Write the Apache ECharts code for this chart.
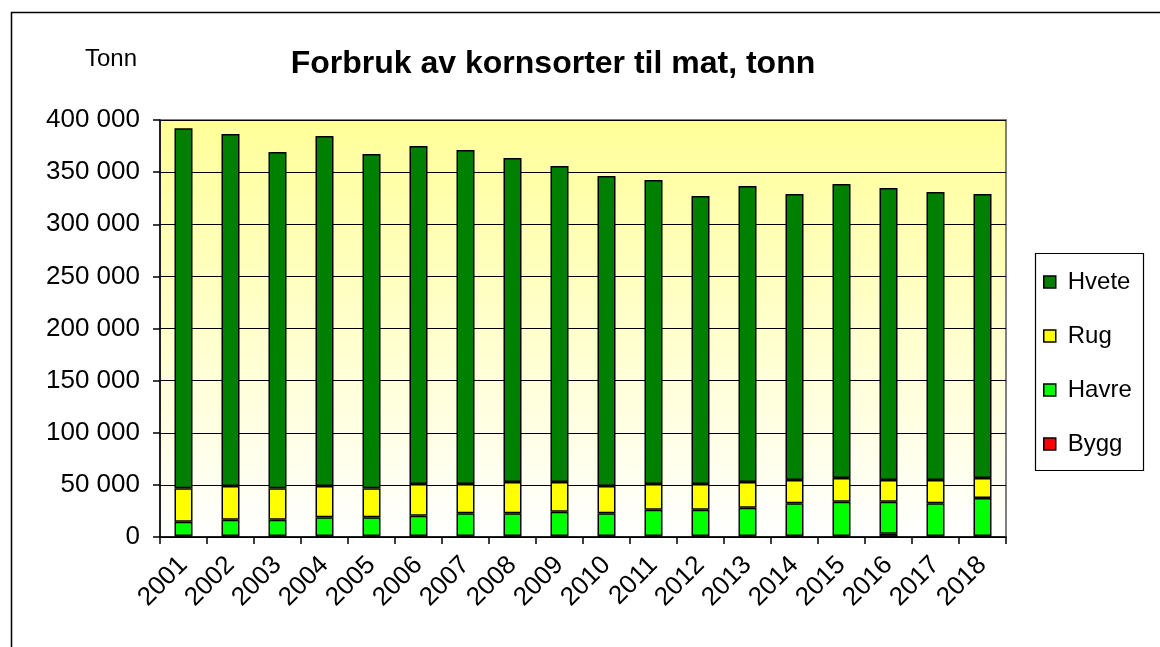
<!DOCTYPE html>
<html><head><meta charset="utf-8">
<script src="https://cdn.jsdelivr.net/npm/echarts@6/dist/echarts.min.js"></script>
<style>html,body{margin:0;padding:0;background:#fff}#c{width:1160px;height:647px}</style>
</head><body><div id="c"></div>
<script>
const years = ['2001','2002','2003','2004','2005','2006','2007','2008','2009','2010','2011','2012','2013','2014','2015','2016','2017','2018'];
const bygg  = [1000,1000,1000,1000,1000,1000,1000,1000,1000,1000,1000,1000,1000,1000,1000,3000,1000,1000];
const havre = [13700,15600,15600,17900,17900,19400,21700,21700,23300,21700,25200,25200,27100,31300,32900,30900,31300,36400];
const rug   = [32000,32300,30100,30000,27800,30400,28100,30100,28500,26200,24600,24600,24700,22400,22700,20800,22400,19200];
const hvete = [345300,337700,322600,335800,320700,324200,320400,310700,303100,297400,291600,276300,283900,274300,282000,280100,276200,272400];
const yTicks = [0,50000,100000,150000,200000,250000,300000,350000,400000];

const font = '"Liberation Sans", Arial, sans-serif';
const chart = echarts.init(document.getElementById('c'));
const fmt = v => String(v).replace(/\B(?=(\d{3})+(?!\d))/g, ' ');
function s(name, data, color) {
  return { name, type: 'bar', stack: 'a', data, barWidth: 18,
    itemStyle: { color, borderColor: '#000', borderWidth: 1.5 } };
}
chart.setOption({
  animation: false,
  textStyle: { fontFamily: font },
  graphic: [
    { type: 'rect', shape: { x: 11.5, y: 12.5, width: 1200, height: 700 }, style: { fill: 'none', stroke: '#000', lineWidth: 1.5 }, z: 100 },
    { type: 'text', left: 85, top: 47, style: { text: 'Tonn', font: '24px ' + font, fill: '#000' } },
    { type: 'rect', shape: { x: 1035.5, y: 253.5, width: 108, height: 217 }, style: { fill: '#fff', stroke: '#000', lineWidth: 1.2 }, z: 0 }
  ],
  title: { text: 'Forbruk av kornsorter til mat, tonn', left: 548, textAlign: 'center', top: 43,
    textStyle: { fontFamily: font, fontSize: 32, fontWeight: 'bold', color: '#000' } },
  legend: {
    data: ['Hvete', 'Rug', 'Havre', 'Bygg'], orient: 'vertical', left: 1038, top: 265,
    itemWidth: 12, itemHeight: 12, itemGap: 30, icon: 'rect',
    itemStyle: { borderColor: '#000', borderWidth: 1.5 },
    textStyle: { fontFamily: font, fontSize: 24, lineHeight: 24, color: '#000', padding: [0, 0, 0, 7] }
  },
  grid: { left: 160, right: 154, top: 120, bottom: 110, containLabel: false,
    show: true, borderColor: '#808080', borderWidth: 2,
    backgroundColor: new echarts.graphic.LinearGradient(0, 0, 0, 1, [
      { offset: 0, color: '#FFFF99' }, { offset: 1, color: '#FFFFFF' }]) },
  xAxis: { type: 'category', data: years,
    axisLine: { lineStyle: { color: '#000', width: 1.5 } },
    axisTick: { show: true, length: 7, interval: 0, lineStyle: { color: '#000', width: 1.5 } },
    axisLabel: { rotate: 45, interval: 0, fontSize: 26, color: '#000', fontFamily: font, margin: 24 } },
  yAxis: { type: 'value', min: 0, max: 400000, interval: 50000,
    axisLine: { show: true, lineStyle: { color: '#000', width: 1.5 } },
    axisTick: { show: true, length: 7, lineStyle: { color: '#000', width: 1.5 } },
    splitLine: { show: true, lineStyle: { color: '#000', width: 1.2 } },
    axisLabel: { fontSize: 26, color: '#000', fontFamily: font, margin: 20,
      formatter: v => yTicks.includes(v) ? fmt(v) : '' } },
  series: [
    s('Bygg', bygg, '#FF0000'),
    s('Havre', havre, '#00FF00'),
    s('Rug', rug, '#FFFF00'),
    s('Hvete', hvete, '#008000')
  ]
});
</script></body></html>
